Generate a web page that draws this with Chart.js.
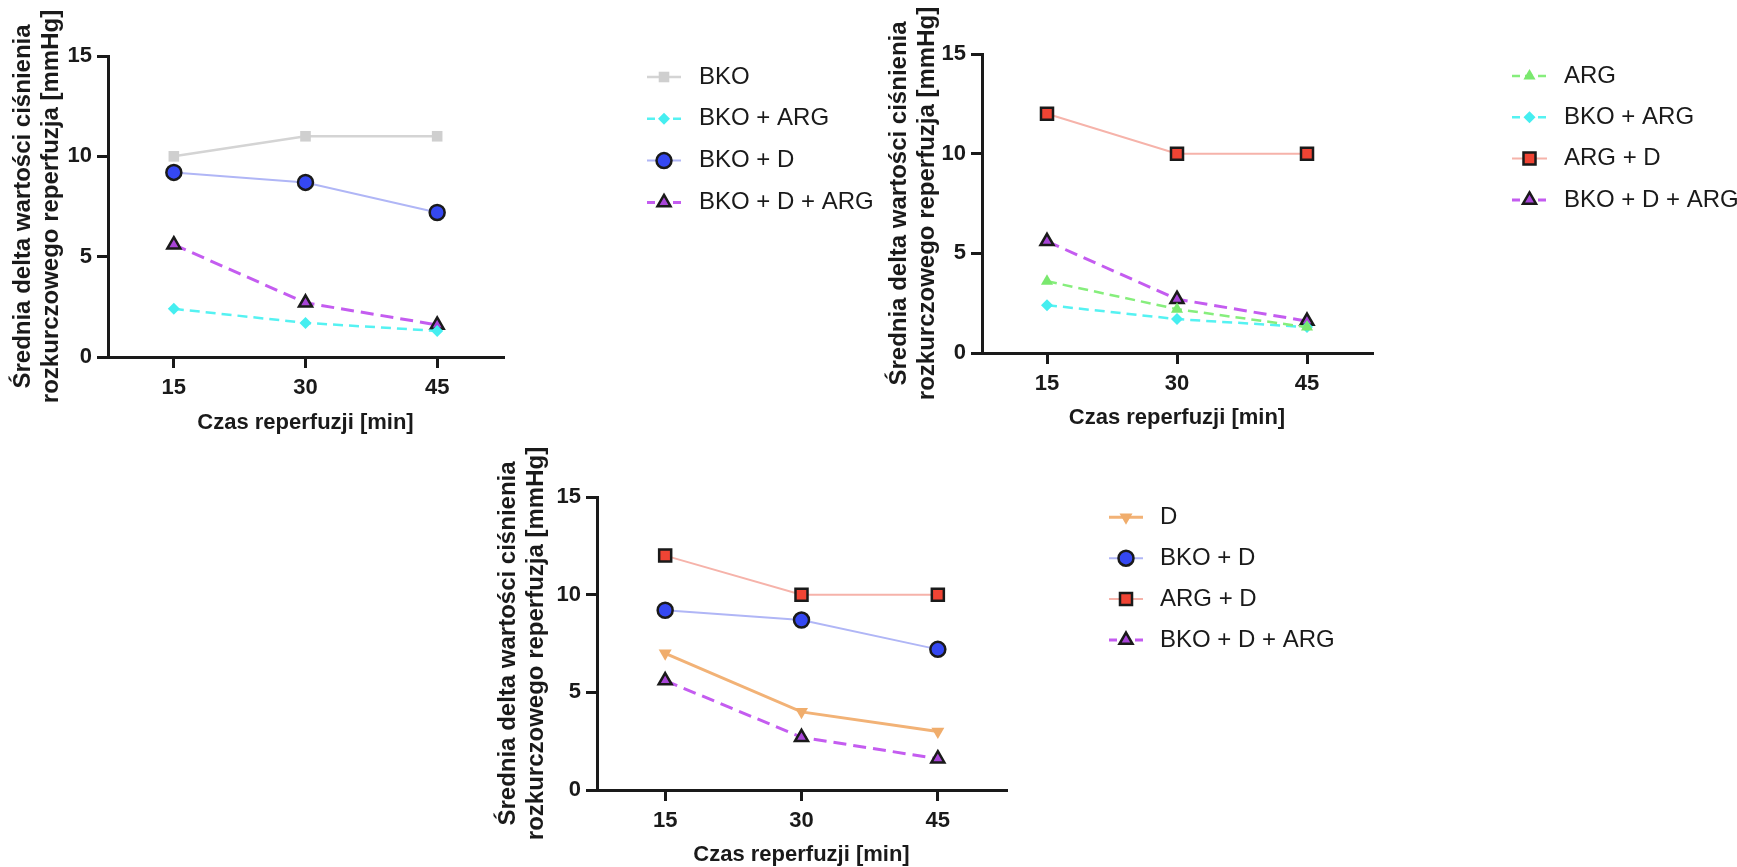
<!DOCTYPE html>
<html lang="pl">
<head>
<meta charset="UTF-8"/>
<title>Średnia delta wartości ciśnienia rozkurczowego</title>
<script src="https://cdn.jsdelivr.net/npm/chart.js@4.4.7/dist/chart.umd.min.js"></script>
<style>
*{margin:0;padding:0;box-sizing:border-box}
html,body{width:1737px;height:867px;overflow:hidden;background:#fff}
canvas{position:absolute;display:block}
</style>
</head>
<body>
<canvas id="panelA" width="880" height="440" style="left:0;top:0;width:880px;height:440px"></canvas>
<canvas id="panelB" width="857" height="440" style="left:880px;top:0;width:857px;height:440px"></canvas>
<canvas id="panelC" width="960" height="440" style="left:440px;top:440px;width:960px;height:440px"></canvas>
<script>
// czas reperfuzji [min]
const minutes = [15, 30, 45];
const yTicks  = [0, 5, 10, 15];

// średnia delta [mmHg] dla grup
const bko     = [10, 11, 11];
const bkoArg  = [2.4, 1.7, 1.3];
const bkoD    = [9.2, 8.7, 7.2];
const bkoDArg = [5.6, 2.7, 1.6];
const arg     = [3.6, 2.2, 1.3];
const argD    = [12, 10, 10];
const dOnly   = [7, 4, 3];

const INK = '#1a1a1a';
const FONT = '"Liberation Sans", Arial, sans-serif';

const styles = {
  'BKO':           { borderColor: '#d4d4d4', borderWidth: 2.5, pointBackgroundColor: '#cfcfcf', pointBorderWidth: 0, pointStyle: 'rect', pointRadius: 7.5 },
  'BKO + ARG':     { borderColor: '#55f2f2', borderWidth: 2.5, borderDash: [10, 6], pointBackgroundColor: '#45eef0', pointBorderWidth: 0, pointStyle: 'rectRot', pointRadius: 6 },
  'BKO + D':       { borderColor: '#b0b6f6', borderWidth: 2, pointBackgroundColor: '#3548f2', pointBorderColor: INK, pointBorderWidth: 2.5, pointStyle: 'circle', pointRadius: 7.5 },
  'BKO + D + ARG': { borderColor: '#c45cf0', borderWidth: 3, borderDash: [13, 7], pointBackgroundColor: '#a845d8', pointBorderColor: INK, pointBorderWidth: 2.5, pointStyle: 'triangle', pointRadius: 7.5 },
  'ARG':           { borderColor: '#86ee7c', borderWidth: 2.5, borderDash: [10, 6], pointBackgroundColor: '#7ae86e', pointBorderWidth: 0, pointStyle: 'triangle', pointRadius: 7 },
  'ARG + D':       { borderColor: '#f6b3aa', borderWidth: 2, pointBackgroundColor: '#f04434', pointBorderColor: INK, pointBorderWidth: 2.5, pointStyle: 'rect', pointRadius: 8.5 },
  'D':             { borderColor: '#f2b276', borderWidth: 3, pointBackgroundColor: '#f0ad6c', pointBorderWidth: 0, pointStyle: 'triangle', pointRotation: 180, pointRadius: 7.5 },
};

function series(label, values) {
  const s = styles[label];
  return {
    label,
    data: minutes.map((m, i) => ({ x: m, y: values[i] })),
    borderDash: [],
    pointBorderColor: s.pointBackgroundColor,
    pointHoverRadius: s.pointRadius,
    tension: 0,
    clip: false,
    ...s,
  };
}

// legenda z prawej: odcinek linii + znacznik + opis
const sideLegend = {
  id: 'sideLegend',
  afterDraw(chart, args, opts) {
    const ctx = chart.ctx;
    ctx.save();
    chart.data.datasets.forEach((ds, i) => {
      const y = opts.top + i * opts.gap;
      ctx.strokeStyle = ds.borderColor;
      ctx.lineWidth = ds.borderWidth;
      ctx.setLineDash(ds.borderDash.length ? [8, 5] : []);
      ctx.beginPath();
      ctx.moveTo(opts.x, y);
      ctx.lineTo(opts.x + opts.len, y);
      ctx.stroke();
      ctx.setLineDash([]);
      ctx.fillStyle = ds.pointBackgroundColor;
      ctx.strokeStyle = ds.pointBorderColor;
      ctx.lineWidth = ds.pointBorderWidth;
      Chart.helpers.drawPoint(ctx, {
        pointStyle: ds.pointStyle,
        rotation: ds.pointRotation || 0,
        radius: ds.pointRadius,
        borderWidth: ds.pointBorderWidth
      }, opts.x + opts.len / 2, y);
      ctx.fillStyle = INK;
      ctx.font = '24px ' + FONT;
      ctx.textBaseline = 'middle';
      ctx.textAlign = 'left';
      ctx.fillText(ds.label, opts.textX, y);
    });
    ctx.restore();
  }
};

function makePanel(id, groups, box) {
  const axisBorder = { display: true, width: 3, color: INK };
  const axisGrid = { display: true, drawOnChartArea: false, drawTicks: true, tickLength: 11, lineWidth: 3, color: INK };
  new Chart(document.getElementById(id), {
    type: 'line',
    data: { datasets: groups.map(([label, values]) => series(label, values)) },
    plugins: [sideLegend],
    options: {
      responsive: false,
      animation: false,
      events: [],
      layout: { padding: { left: 0, top: box.top, right: box.right, bottom: 0 } },
      plugins: {
        legend: { display: false },
        tooltip: { enabled: false },
        sideLegend: box.legend
      },
      scales: {
        x: {
          type: 'linear',
          min: 7.5,
          max: 52.5,
          border: axisBorder,
          grid: axisGrid,
          afterBuildTicks: s => { s.ticks = minutes.map(v => ({ value: v })); },
          afterFit: s => { s.height = box.xHeight; },
          ticks: { color: INK, padding: 7, font: { family: FONT, size: 22, weight: 'bold' } },
          title: {
            display: true,
            text: 'Czas reperfuzji [min]',
            color: INK,
            padding: { top: 0, bottom: box.xTitlePad },
            font: { family: FONT, size: 22, weight: 'bold', lineHeight: 1.2 }
          }
        },
        y: {
          min: 0,
          max: 15,
          border: axisBorder,
          grid: axisGrid,
          afterBuildTicks: s => { s.ticks = yTicks.map(v => ({ value: v })); },
          afterFit: s => { s.width = box.left; },
          ticks: { color: INK, padding: 5, font: { family: FONT, size: 22, weight: 'bold' } },
          title: {
            display: true,
            text: ['Średnia delta wartości ciśnienia', 'rozkurczowego reperfuzja [mmHg]'],
            color: INK,
            padding: { top: box.yTitlePad, bottom: 0 },
            font: { family: FONT, size: 24, weight: 'bold', lineHeight: 1.15 }
          }
        }
      }
    }
  });
}

makePanel('panelA', [
  ['BKO', bko],
  ['BKO + ARG', bkoArg],
  ['BKO + D', bkoD],
  ['BKO + D + ARG', bkoDArg],
], { left: 108, top: 56, right: 377, xHeight: 83, xTitlePad: 4, yTitlePad: 10,
     legend: { x: 647, len: 34, textX: 699, top: 77, gap: 41.8 } });

makePanel('panelB', [
  ['ARG', arg],
  ['BKO + ARG', bkoArg],
  ['ARG + D', argD],
  ['BKO + D + ARG', bkoDArg],
], { left: 102, top: 54, right: 365, xHeight: 87, xTitlePad: 9, yTitlePad: 5.5,
     legend: { x: 632, len: 35, textX: 684, top: 76, gap: 41.3 } });

makePanel('panelC', [
  ['D', dOnly],
  ['BKO + D', bkoD],
  ['ARG + D', argD],
  ['BKO + D + ARG', bkoDArg],
], { left: 157, top: 57, right: 394, xHeight: 90, xTitlePad: 12, yTitlePad: 54.5,
     legend: { x: 669, len: 34, textX: 720, top: 77.3, gap: 40.9 } });
</script>
</body>
</html>
